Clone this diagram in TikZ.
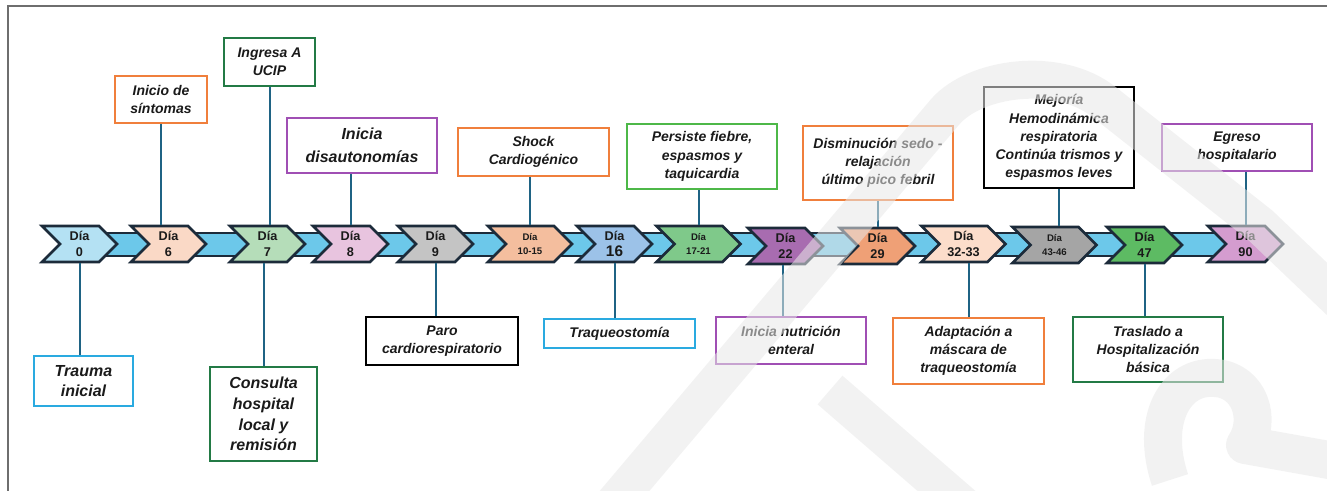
\documentclass[tikz,border=0pt]{standalone}
\usepackage{fontspec}
\setmainfont{Liberation Sans}
\usetikzlibrary{shapes.symbols,calc}
\definecolor{bandblue}{HTML}{6CC8EA}
\definecolor{navy}{HTML}{1C2B3A}
\definecolor{connc}{HTML}{1F6384}
\definecolor{framec}{HTML}{6E6E6E}
\definecolor{orangeb}{HTML}{F07F3C}
\definecolor{dgreenb}{HTML}{237A45}
\definecolor{lgreenb}{HTML}{4DB848}
\definecolor{purpleb}{HTML}{A04FB4}
\definecolor{blueb}{HTML}{2AAAE0}
\definecolor{txt}{HTML}{1A1A1A}
\definecolor{wmark}{HTML}{E8E8E8}
\definecolor{k0}{HTML}{B4E1F3}
\definecolor{k6}{HTML}{FAD9C6}
\definecolor{k7}{HTML}{B5DDB9}
\definecolor{k8}{HTML}{E8C4DF}
\definecolor{k9}{HTML}{C4C4C4}
\definecolor{k10}{HTML}{F4BE9E}
\definecolor{k16}{HTML}{9CC2E8}
\definecolor{k17}{HTML}{7FC98A}
\definecolor{k22}{HTML}{A86CB0}
\definecolor{k29}{HTML}{EFA076}
\definecolor{k32}{HTML}{FCDDCB}
\definecolor{k43}{HTML}{A5A5A5}
\definecolor{k47}{HTML}{5DBB63}
\definecolor{k90}{HTML}{D49CCF}
\tikzset{
  chev/.style={signal, signal from=west, signal to=east, draw=navy, line width=1.9pt,
    minimum width=56.25pt, minimum height=27pt, inner sep=0pt, align=center,
    text=txt, font=\bfseries\fontsize{9.5}{12.5}\selectfont},
  chevw/.style={chev, minimum width=63pt},
  lab/.style={draw, line width=1.5pt, align=center, inner sep=1pt, text=txt,
    font=\bfseries\itshape\fontsize{10.5}{13.6}\selectfont},
  conn/.style={draw=connc, line width=1.5pt},
  wm/.style={draw=wmark, opacity=0.55, line width=28.5pt, line cap=butt, line join=round},
}
\begin{document}
\begin{tikzpicture}[x=0.75pt,y=-0.75pt]
\useasboundingbox (0,0) rectangle (1327,491);
% frame
\draw[framec, line width=1.6pt] (8,491) -- (8,6) -- (1327,6);
% band
\draw[fill=bandblue, draw=navy, line width=1.8pt] (95,233) rectangle (1225,256);
% chevrons
\node[chev, fill=k0] (c0) at (79.5,244) {Día\\0};
\node[chev, fill=k6] (c6) at (168.5,244) {Día\\6};
\node[chev, fill=k7] (c7) at (267.5,244) {Día\\7};
\node[chev, fill=k8] (c8) at (350.5,244) {Día\\8};
\node[chev, fill=k9] (c9) at (435.5,244) {Día\\9};
\node[chevw, fill=k10, font=\bfseries\fontsize{7.2}{11}\selectfont] (c10) at (530,244) {Día\\10-15};
\node[chev, fill=k16] (c16) at (614.5,244) {Día\\{\fontsize{11.5}{12}\selectfont 16}};
\node[chevw, fill=k17, font=\bfseries\fontsize{7.2}{11}\selectfont] (c17) at (698.5,244) {Día\\17-21};
\node[chev, fill=k22] (c22) at (785.5,246) {Día\\22};
\node[chev, fill=k29] (c29) at (877.5,246) {Día\\29};
\node[chevw, fill=k32] (c32) at (963.5,244) {Día\\32-33};
\node[chevw, fill=k43, font=\bfseries\fontsize{7.2}{11}\selectfont] (c43) at (1054.5,245) {Día\\43-46};
\node[chev, fill=k47] (c47) at (1144.5,245) {Día\\47};
\node[chev, fill=k90] (c90) at (1245.5,244) {Día\\90};
% top labels
\node[lab, draw=orangeb, minimum width=69pt, minimum height=35.25pt] (inicio) at (161,99.5) {Inicio de\\síntomas};
\node[lab, draw=dgreenb, minimum width=68.25pt, minimum height=36pt] (ingresa) at (269.5,62) {Ingresa A\\UCIP};
\node[lab, draw=purpleb, minimum width=112.5pt, minimum height=41.25pt, font=\bfseries\itshape\fontsize{12}{17}\selectfont] (disaut) at (362,145.5) {Inicia\\disautonomías};
\node[lab, draw=orangeb, minimum width=113.25pt, minimum height=36pt] (shock) at (533.5,152) {Shock\\Cardiogénico};
\node[lab, draw=lgreenb, minimum width=112.5pt, minimum height=48.75pt] (persiste) at (702,156.5) {Persiste fiebre,\\espasmos y\\taquicardia};
\node[lab, draw=orangeb, minimum width=112.5pt, minimum height=55.5pt] (dismin) at (878,163) {Disminución sedo -\\relajación\\último pico febril};
\node[lab, draw=black, minimum width=112.5pt, minimum height=75.75pt] (mejoria) at (1059,137.5) {Mejoría\\Hemodinámica\\respiratoria\\Continúa trismos y\\espasmos leves};
\node[lab, draw=purpleb, minimum width=112.5pt, minimum height=35.25pt] (egreso) at (1237,147.5) {Egreso\\hospitalario};
% bottom labels
\node[lab, draw=blueb, minimum width=74.25pt, minimum height=37.5pt, font=\bfseries\itshape\fontsize{12}{14.5}\selectfont] (trauma) at (83.5,381) {Trauma\\inicial};
\node[lab, draw=dgreenb, minimum width=80.25pt, minimum height=70.5pt, font=\bfseries\itshape\fontsize{12}{15.5}\selectfont] (consulta) at (263.5,414) {Consulta\\hospital\\local y\\remisión};
\node[lab, draw=black, minimum width=114pt, minimum height=36pt] (paro) at (442,341) {Paro\\cardiorespiratorio};
\node[lab, draw=blueb, minimum width=113.25pt, minimum height=21.75pt] (traq) at (619.5,333.5) {Traqueostomía};
\node[lab, draw=purpleb, minimum width=112.5pt, minimum height=35.25pt] (nutr) at (791,340.5) {Inicia nutrición\\enteral};
\node[lab, draw=orangeb, minimum width=113.25pt, minimum height=49.5pt] (adapt) at (968.5,351) {Adaptación a\\máscara de\\traqueostomía};
\node[lab, draw=dgreenb, minimum width=112.5pt, minimum height=48.75pt] (traslado) at (1148,349.5) {Traslado a\\Hospitalización\\básica};
% connectors (top)
\draw[conn] (inicio.south) -- (inicio.south |- c6.north);
\draw[conn] (ingresa.south) -- (ingresa.south |- c7.north);
\draw[conn] (c8.north) -- (c8.north |- disaut.south);
\draw[conn] (c10.north) -- (c10.north |- shock.south);
\draw[conn] (c17.north) -- (c17.north |- persiste.south);
\draw[conn] (dismin.south) -- (dismin.south |- c29.north);
\draw[conn] (mejoria.south) -- (mejoria.south |- c43.north);
\draw[conn] (c90.north) -- (c90.north |- egreso.south);
% connectors (bottom)
\draw[conn] (c0.south) -- (c0.south |- trauma.north);
\draw[conn] (consulta.north) -- (consulta.north |- c7.south);
\draw[conn] (c9.south) -- (c9.south |- paro.north);
\draw[conn] (c16.south) -- (c16.south |- traq.north);
\draw[conn] ($(c22.south)+(-3,0)$) -- ($(c22.south |- nutr.north)+(-3,0)$);
\draw[conn] (adapt.north) -- (adapt.north |- c32.south);
\draw[conn] (c47.south) -- (c47.south |- traslado.north);
% faint watermark overlay
\begin{scope}
\clip (0,0) rectangle (1327,491);
\draw[wm] (600,520) -- (945,112) .. controls (974,78) and (1057,65) .. (1104,102) -- (1260,225) -- (1370,330);
\draw[wm] (830,390) -- (980,520);
\draw[wm] (1170,480) .. controls (1150,420) and (1175,375) .. (1215,378) .. controls (1250,380) and (1262,420) .. (1245,445) -- (1340,462);
\end{scope}
\end{tikzpicture}
\end{document}
